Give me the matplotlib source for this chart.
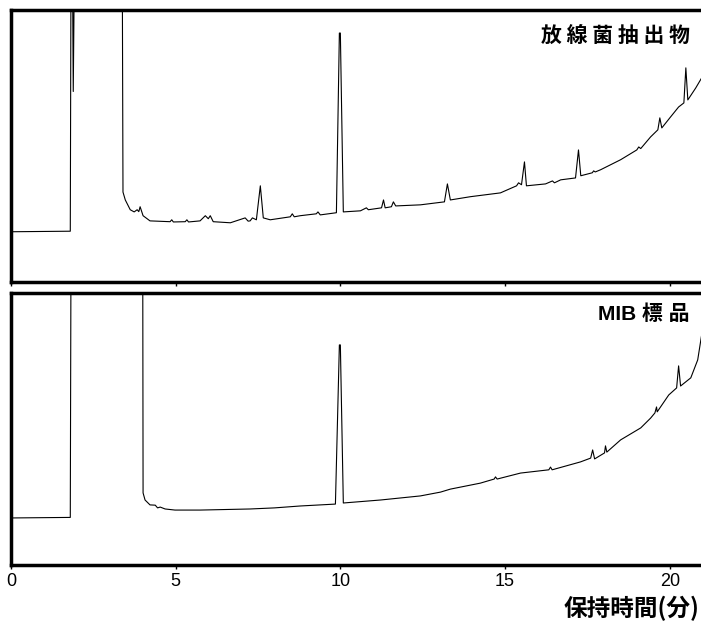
import matplotlib.pyplot as plt

# retention time (min) and detector signal (% of panel height)
top_time = [0.00, 1.80, 1.82, 1.87, 1.89, 1.92, 3.38, 3.40, 3.47, 3.62, 3.74, 3.83, 3.88, 3.92,
            4.01, 4.22, 4.83, 4.88, 4.93, 5.29, 5.34, 5.39, 5.74, 5.90, 5.99, 6.05, 6.14, 6.66,
            7.11, 7.20, 7.26, 7.33, 7.45, 7.57, 7.66, 7.87, 8.48, 8.54, 8.60, 8.78, 9.27, 9.32,
            9.39, 9.88, 9.97, 10.00, 10.09, 10.61, 10.79, 10.85, 11.25, 11.31, 11.36, 11.55,
            11.61, 11.68, 12.43, 13.16, 13.25, 13.34, 13.95, 14.86, 15.35, 15.41, 15.50, 15.59,
            15.65, 16.23, 16.44, 16.50, 16.69, 17.14, 17.23, 17.30, 17.65, 17.69, 17.74, 17.90,
            18.51, 19.00, 19.06, 19.12, 19.42, 19.64, 19.70, 19.76, 20.03, 20.27, 20.43, 20.49,
            20.55, 20.79, 20.97]
top_signal = [18.4, 18.6, 110, 110, 70, 110, 110, 33.0, 30.1, 26.5, 25.7, 26.5, 25.8, 27.6,
              24.3, 22.4, 22.1, 22.8, 22.0, 22.1, 22.8, 22.0, 22.4, 24.3, 23.2, 24.3, 22.1, 21.7,
              23.5, 22.3, 22.4, 23.5, 22.8, 35.3, 23.5, 22.8, 23.9, 25.0, 23.9, 24.3, 25.0, 25.7,
              24.6, 25.4, 91.5, 91.5, 25.7, 26.1, 27.2, 26.5, 27.2, 30.1, 27.2, 27.6,
              29.4, 27.9, 28.3, 29.4, 36.0, 30.1, 31.3, 32.7, 35.3, 36.4, 35.7, 44.1,
              35.3, 36.0, 37.1, 36.4, 37.5, 38.2, 48.5, 39.0, 40.1, 40.8, 40.4, 41.2,
              44.9, 48.5, 49.6, 49.0, 53.3, 55.9, 60.3, 56.6, 60.7, 64.3, 65.8, 78.7,
              66.9, 71.3, 75.0]

bot_time = [0.00, 1.80, 1.82, 4.00, 4.01, 4.07, 4.22, 4.38, 4.45, 4.53, 4.68, 4.98, 5.74, 6.50,
            7.26, 8.00, 8.78, 9.85, 9.97, 10.00, 10.09, 11.22, 12.43, 13.04, 13.34, 14.25, 14.67,
            14.71, 14.76, 15.47, 16.33, 16.38, 16.43, 17.29, 17.60, 17.66, 17.72, 18.02, 18.05,
            18.09, 18.51, 19.12, 19.42, 19.55, 19.60, 19.62, 19.97, 20.21, 20.27, 20.33, 20.64,
            20.85, 20.97]
bot_signal = [17.3, 17.5, 110, 110, 26.5, 23.9, 22.1, 22.0, 21.0, 21.3, 20.6, 20.2, 20.2, 20.4,
              20.6, 21.0, 21.7, 22.4, 80.9, 80.9, 22.8, 23.9, 25.4, 26.8, 27.9, 30.1, 31.6,
              32.4, 31.6, 33.8, 35.0, 36.0, 35.0, 37.9, 39.3, 42.3, 39.0, 41.2, 43.8,
              41.5, 46.0, 50.4, 54.0, 55.9, 58.1, 56.3, 62.5, 65.1, 73.2, 65.8, 68.8,
              75.4, 84.6]

tick_vals = [0, 5, 10, 15, 20]
tick_text = ["0", "5", "10", "15", "20"]

plt.rcParams['font.family'] = ['Noto Sans CJK JP', 'DejaVu Sans']

fig = plt.figure(figsize=(7.01, 6.22), dpi=100)
ax1 = fig.add_axes([0.0157, 0.547, 0.9843, 0.437])
ax2 = fig.add_axes([0.0157, 0.0916, 0.9843, 0.4374])

for ax, t, s in [(ax1, top_time, top_signal), (ax2, bot_time, bot_signal)]:
    ax.plot(t, s, color="black", lw=0.8)
    ax.set_xlim(0, 20.95)
    ax.set_ylim(0, 100)
    ax.set_yticks([])
    ax.set_xticks(tick_vals)
    ax.tick_params(axis='x', length=3, width=1, pad=3)
    for side in ['left', 'top', 'bottom']:
        ax.spines[side].set_linewidth(2.5)
    ax.spines['right'].set_visible(False)

ax1.set_xticklabels([])
ax2.set_xticklabels(tick_text, fontsize=13,
                    family=['Liberation Sans Narrow', 'Liberation Sans', 'DejaVu Sans'])

ax1.text(0.984, 0.908, "放 線 菌 抽 出 物", transform=ax1.transAxes, ha="right", va="center",
         fontsize=15, fontweight="bold")
ax2.text(0.984, 0.923, "MIB 標 品", transform=ax2.transAxes, ha="right", va="center",
         fontsize=15, fontweight="bold", family=['Liberation Sans', 'Noto Sans CJK JP'])
fig.text(0.998, 0.021, "保持時間(分)", ha="right", va="center", fontsize=17, fontweight="bold")

fig.savefig("out.png", dpi=100)
